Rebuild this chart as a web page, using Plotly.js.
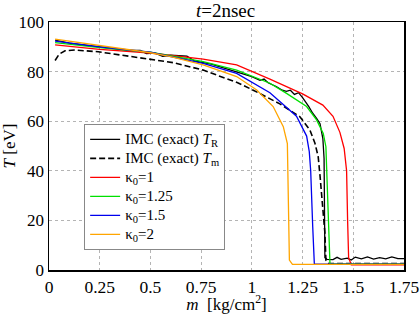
<!DOCTYPE html>
<html><head><meta charset="utf-8">
<script src="https://cdn.plot.ly/plotly-3.0.1.min.js"></script>
<style>html,body{margin:0;padding:0;background:#fff}#c{width:420px;height:314px}</style>
</head><body><div id="c"></div>
<script>
// IMC (exact) T_R
const mTR = [0.03,0.1,0.2,0.3,0.4,0.45,0.48,0.52,0.56,0.6,0.64,0.68,0.72,0.8,0.9,0.95,1.0,1.04,1.06,1.08,1.12,1.15,1.17,1.19,1.21,1.23,1.25,1.28,1.30,1.32,1.336,1.35,1.356,1.358,1.36,1.37,1.4,1.42,1.44,1.47,1.49,1.51,1.54,1.57,1.6,1.63,1.66,1.69,1.72,1.75];
const TR  = [92.7,91.5,90.5,89.5,88.5,88.5,87.3,87.5,86.2,86.6,86.5,86.2,84.2,83,80.5,79.3,78,76.5,77,75.5,74,72.5,72,72.5,70.8,71.5,69.5,66,63.2,61,59,53,45,25,5,4.3,4.2,5.1,4.3,4.8,4.0,5.2,4.5,5.3,4.4,5.0,4.5,5.3,4.6,4.6];
// IMC (exact) T_m
const mTm = [0.03,0.05,0.079,0.128,0.243,0.473,0.613,0.76,0.93,1.007,1.138,1.237,1.286,1.311,1.327,1.336,1.352,1.36,1.365,1.38,1.5,1.75];
const Tm  = [84.5,87,88.4,88.7,88,85.4,83.6,80.6,75.5,72.5,67,61.8,56.5,51.1,45.7,38,24,15,4,2.6,2.6,2.6];
// kappa0 = 1
const mK1 = [0.03,0.25,0.5,0.76,0.925,1.089,1.25,1.35,1.40,1.434,1.455,1.467,1.472,1.477,1.49,1.6,1.75];
const TK1 = [90.8,89,87.5,85,82.7,77,71,66.5,62,55.5,49,40,20,5,2.1,2.1,2.1];
// kappa0 = 1.25
const mK125 = [0.03,0.25,0.5,0.76,0.925,1.089,1.171,1.229,1.27,1.319,1.352,1.365,1.369,1.376,1.385,1.5,1.75];
const TK125 = [91.7,89.7,87.8,84,80.6,75.3,71.2,68,65.9,60.5,55.1,49.7,40.3,17.5,2.5,2.5,2.5];
// kappa0 = 1.5
const mK15 = [0.03,0.25,0.5,0.76,0.925,1.089,1.22,1.27,1.283,1.29,1.3,1.308,1.4,1.6,1.75];
const TK15 = [92.3,90,87.8,83.3,79.3,71.5,62,54,47.7,40,17.5,2.4,2.4,2.4,2.4];
// kappa0 = 2
const mK2 = [0.03,0.243,0.5,0.6,0.76,0.925,1.024,1.105,1.155,1.175,1.18,1.185,1.2,1.4,1.6,1.75];
const TK2 = [93.1,90.7,87.6,86,82.7,78,72.6,65.9,57.8,51,20,4,2.3,2.3,2.3,2.3];

const F = "Liberation Serif";
const big = s => '<span style="font-size:15px">' + s + '</span>';
const traces = [
  {x:mTR, y:TR, name:big("IMC (exact) <i>T</i><sub>R</sub>"), line:{color:"#000",width:1.3}},
  {x:mTm, y:Tm, name:big("IMC (exact) <i>T</i><sub>m</sub>"), line:{color:"#000",width:1.6,dash:"6px,3px"}},
  {x:mK1, y:TK1, name:big("κ<sub>0</sub>=1"), line:{color:"#ff0000",width:1.3}},
  {x:mK125, y:TK125, name:big("κ<sub>0</sub>=1.25"), line:{color:"#00e000",width:1.3}},
  {x:mK15, y:TK15, name:big("κ<sub>0</sub>=1.5"), line:{color:"#0000ee",width:1.3}},
  {x:mK2, y:TK2, name:big("κ<sub>0</sub>=2"), line:{color:"#ffa500",width:1.3}}
].map(t => Object.assign({type:"scatter", mode:"lines"}, t));

function axisBase(fs) {
  return {
    showline:true, mirror:true, linecolor:"#000", linewidth:1.5,
    showgrid:true, gridcolor:"#b4b4b4", gridwidth:1, griddash:"dot",
    zeroline:false, ticks:"", tickfont:{family:F, size:fs, color:"#000"}
  };
}
const layout = {
  width:420, height:314,
  margin:{l:49, r:16, t:22, b:44},
  paper_bgcolor:"#fff", plot_bgcolor:"#fff",
  font:{family:F, size:17, color:"#000"},
  title:{text:"<i>t</i>=2nsec", font:{family:F, size:19}, x:0.537, xanchor:"center", y:0.967, yanchor:"middle"},
  xaxis:Object.assign(axisBase(17.5), {range:[0,1.75], tickvals:[0,0.25,0.5,0.75,1,1.25,1.5,1.75], ticktext:["0","0.25","0.5","0.75","1","1.25","1.5","1.75"],
    title:{text:"<i>m</i>&nbsp;&nbsp;[kg/cm<sup>2</sup>]", font:{family:F, size:17}, standoff:6}}),
  yaxis:Object.assign(axisBase(17), {range:[0,100], tickvals:[0,20,40,60,80,100], ticktext:["0","20","40","60","80","100"],
    title:{text:"<i>T</i> [eV]", font:{family:F, size:17}, standoff:4}}),
  showlegend:true,
  legend:{x:0.099, y:0.081, xanchor:"left", yanchor:"bottom", bgcolor:"#fff", bordercolor:"#888", borderwidth:1,
    font:{family:F, size:12, color:"#000"}, tracegroupgap:0, itemwidth:30}
};
Plotly.newPlot("c", traces, layout, {staticPlot:true, displayModeBar:false});
</script></body></html>
